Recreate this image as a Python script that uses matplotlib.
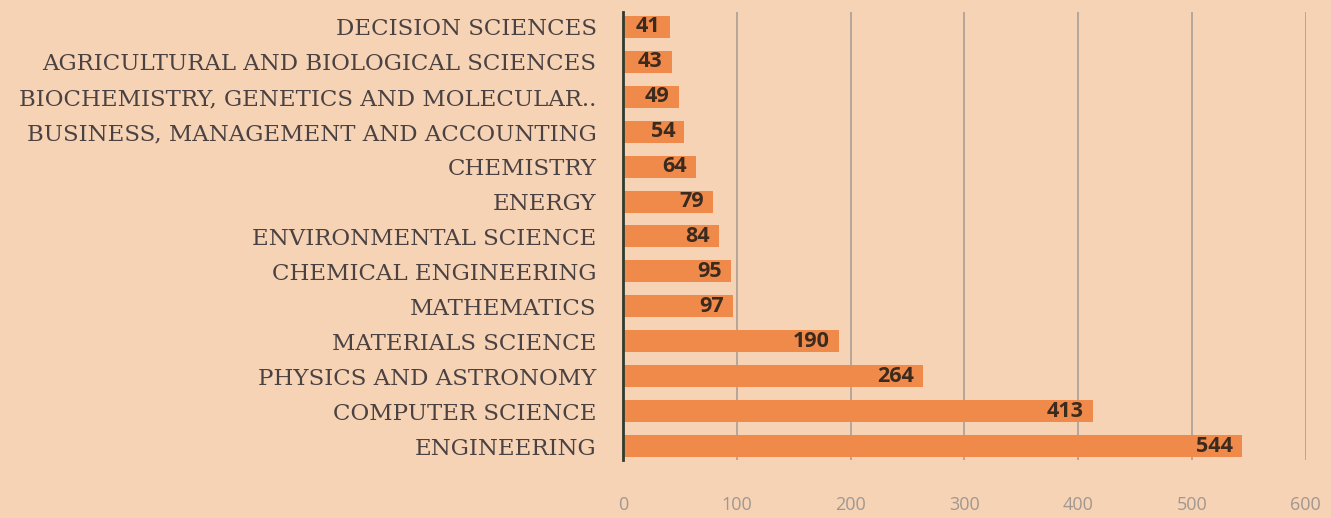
import matplotlib
matplotlib.use("Agg")
import matplotlib.pyplot as plt

categories = ["ENGINEERING", "COMPUTER SCIENCE", "PHYSICS AND ASTRONOMY",
              "MATERIALS SCIENCE", "MATHEMATICS", "CHEMICAL ENGINEERING",
              "ENVIRONMENTAL SCIENCE", "ENERGY", "CHEMISTRY",
              "BUSINESS, MANAGEMENT AND ACCOUNTING",
              "BIOCHEMISTRY, GENETICS AND MOLECULAR..",
              "AGRICULTURAL AND BIOLOGICAL SCIENCES", "DECISION SCIENCES"]
counts = [544, 413, 264, 190, 97, 95, 84, 79, 64, 54, 49, 43, 41]
xticks = [0, 100, 200, 300, 400, 500, 600]

bg = "#F7D3B5"
bar_col = "#F08A4B"

fig = plt.figure(figsize=(13.31, 5.18), dpi=100, facecolor=bg)
ax = fig.add_axes([0.468, 0.112, 0.513, 0.865], facecolor=bg)

ypos = list(range(len(categories)))
ax.barh(ypos, counts, height=0.63, color=bar_col, zorder=2)

for y, v in zip(ypos, counts):
    # labels sit just inside the bar end
    ax.text(v - 8, y, str(v), ha="right", va="center", fontsize=15.5,
            fontweight="bold", color="#3b2a1e", family="Open Sans",
            zorder=3)

ax.set_xlim(0, 600)
ax.set_ylim(-0.4, 12.43)
ax.set_xticks(xticks)
ax.set_yticks(ypos)
ax.set_yticklabels(categories, family="DejaVu Serif", fontsize=16.5,
                   color="#4a4242")
ax.tick_params(axis="y", length=0, pad=19)
ax.tick_params(axis="x", length=0, pad=26, labelsize=13, labelcolor="#a09890")
for lbl in ax.get_xticklabels():
    lbl.set_family("Open Sans")

ax.grid(axis="x", color="#ab9e95", linewidth=1.2, zorder=1)
ax.grid(axis="y", visible=False)
for s in ["top", "right", "bottom"]:
    ax.spines[s].set_visible(False)
ax.spines["left"].set_color("#2f3b2f")
ax.spines["left"].set_linewidth(2)
ax.spines["left"].set_zorder(4)

fig.savefig("out.png", dpi=100, facecolor=bg)
